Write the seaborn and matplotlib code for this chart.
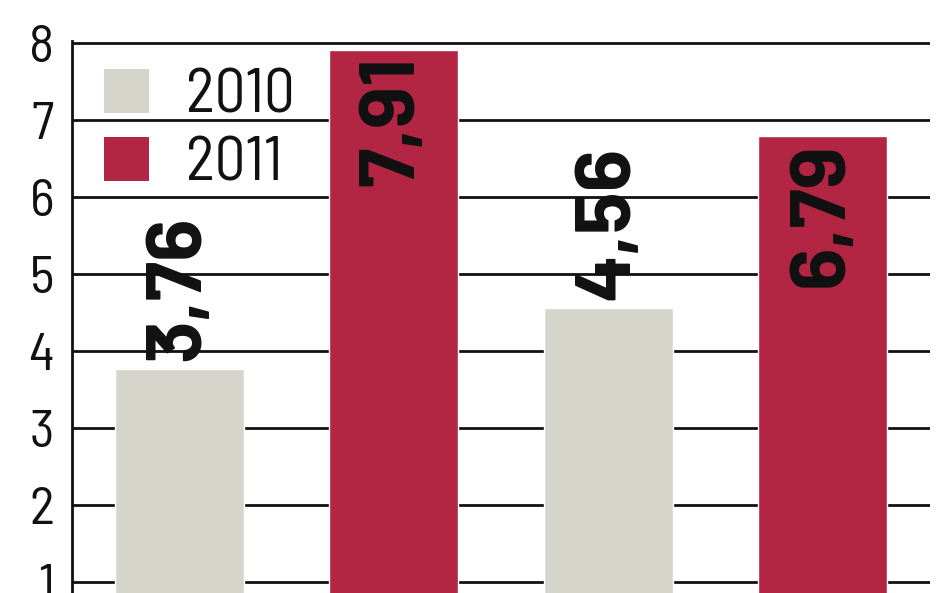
import matplotlib
matplotlib.use("Agg")
import matplotlib.pyplot as plt
from matplotlib.patches import Patch
import seaborn as sns
import pandas as pd

bars = ["A 2010", "A 2011", "B 2010", "B 2011"]
years = ["2010", "2011", "2010", "2011"]
values = [3.76, 7.91, 4.56, 6.79]
labels = ["3,76", "7,91", "4,56", "6,79"]
yticks = [1, 2, 3, 4, 5, 6, 7, 8]
palette = {"2010": "#D5D5CB", "2011": "#B22543"}

df = pd.DataFrame({"bar": bars, "year": years, "value": values})

sns.set_style("white")
plt.rcParams["font.family"] = ["Barlow Semi Condensed", "DejaVu Sans"]

fig = plt.figure(figsize=(9.48, 5.93), dpi=100)
top_px = 40.7
ax = fig.add_axes([72 / 948, 0, (930 - 72) / 948, 1 - top_px / 593])

sns.barplot(data=df, x="bar", y="value", hue="year", palette=palette,
            dodge=False, width=0.6, order=bars, ax=ax, legend=False,
            saturation=1)

ax.set_xlim(-0.5, 3.5)
ax.set_ylim(8 - (593 - 43) / 77, 8.03)
ax.set_axisbelow(True)
ax.yaxis.grid(True, color="#111111", lw=2.0)
ax.xaxis.grid(False)
ax.set_yticks(yticks)
ax.set_yticklabels([str(t) for t in yticks], fontsize=38, color="#111111",
                   fontweight="normal")
ax.tick_params(axis="y", length=0, pad=13)
ax.set_xticks([])
ax.set_xlabel("")
ax.set_ylabel("")
for s in ["top", "right", "bottom"]:
    ax.spines[s].set_visible(False)
ax.spines["left"].set_color("#111111")
ax.spines["left"].set_linewidth(2.0)

for i, (v, lab, yr) in enumerate(zip(values, labels, years)):
    above = yr == "2010"
    ax.annotate(lab, xy=(i, v), xytext=(0, 8 if above else -6),
                textcoords="offset pixels", rotation=90, ha="center",
                va="bottom" if above else "top", fontsize=57,
                fontweight="bold", color="#111111",
                family=["Barlow", "DejaVu Sans"])

handles = [Patch(facecolor=palette[y], edgecolor="none", label=y) for y in ["2010", "2011"]]
leg = ax.legend(handles=handles, loc="upper left", bbox_to_anchor=(0.037, 0.95),
                frameon=False, fontsize=44, handlelength=0.74, handleheight=0.74,
                handletextpad=0.6, labelspacing=0.2, borderpad=0, borderaxespad=0,
                labelcolor="#111111")
for t in leg.get_texts():
    t.set_fontweight("normal")

fig.savefig("out.png", dpi=100)
